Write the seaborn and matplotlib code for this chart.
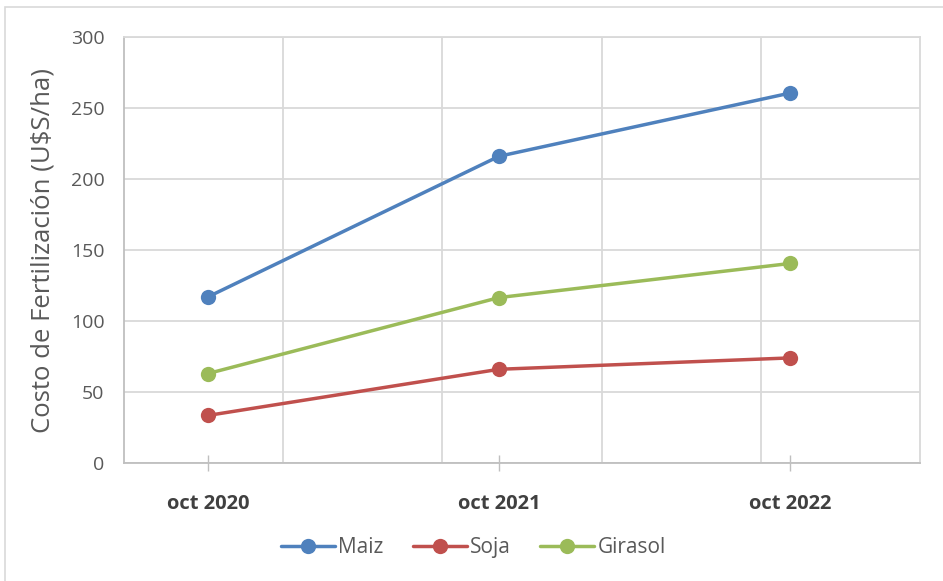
import pandas as pd
import seaborn as sns
import matplotlib.pyplot as plt
from matplotlib.patches import Rectangle

# ── Data ───────────────────────────────────────────────────────────────────────
periodos = ["oct 2020", "oct 2021", "oct 2022"]
maiz     = [117, 216, 260.5]
soja     = [33.5, 66, 74]
girasol  = [63, 116.5, 140.5]

cultivos = ["Maiz", "Soja", "Girasol"]
colores  = ["#4F81BD", "#C0504D", "#9BBB59"]

df = pd.DataFrame({
    "periodo": periodos * 3,
    "costo":   maiz + soja + girasol,
    "cultivo": [c for c in cultivos for _ in periodos],
})

# ── Plot ───────────────────────────────────────────────────────────────────────
sns.set_style("white")
plt.rcParams["font.family"] = ["Open Sans", "DejaVu Sans"]

fig = plt.figure(figsize=(9.43, 5.81), dpi=100)
ax = fig.add_axes([0.1315, 0.2031, 0.8441, 0.7332])

sns.lineplot(data=df, x="periodo", y="costo", hue="cultivo",
             hue_order=cultivos, palette=colores, marker="o",
             markersize=11, markeredgewidth=0, linewidth=2.5, ax=ax)

x0, x1 = -0.2887, 2.447
ax.set_ylim(0, 300)
ax.set_yticks(range(0, 301, 50))
ax.set_xlim(x0, x1)

# Excel-style vertical gridlines (5 equal bands, not aligned to categories)
step = (x1 - x0) / 5
ax.set_xticks([x0 + step * i for i in range(1, 5)], minor=True)
ax.grid(True, which="minor", axis="x", color="#D9D9D9", linewidth=1.3)
ax.grid(True, which="major", axis="y", color="#D9D9D9", linewidth=1.3)
ax.grid(False, which="major", axis="x")
ax.set_axisbelow(True)

for s in ax.spines.values():
    s.set_color("#D9D9D9")
    s.set_linewidth(1.3)
ax.spines["left"].set_color("#BFBFBF")
ax.spines["bottom"].set_color("#BFBFBF")

ax.tick_params(axis="y", left=False, length=0, pad=14, labelsize=14, labelcolor="#595959")
ax.tick_params(axis="x", which="major", bottom=True, direction="inout", length=12, width=1,
               color="#BFBFBF", pad=16, labelsize=14.5, labelcolor="#404040")
ax.tick_params(axis="x", which="minor", bottom=False, length=0)
for lbl in ax.get_xticklabels():
    lbl.set_fontweight("bold")

ax.set_xlabel("")
ax.set_ylabel("Costo de Fertilización (U$S/ha)", fontsize=18.5, color="#595959",
              labelpad=11)

ax.legend(loc="center", bbox_to_anchor=(0.502, 0.057), bbox_transform=fig.transFigure,
          ncol=3, frameon=False, fontsize=15, handlelength=2.6, columnspacing=1.4,
          handletextpad=0.15, labelcolor="#595959")

# outer chart border
fig.patches.append(Rectangle((0.005, -0.01), 1.0, 0.998, transform=fig.transFigure,
                             fill=False, edgecolor="#D9D9D9", linewidth=1.2))

fig.savefig("out.png", dpi=100)
